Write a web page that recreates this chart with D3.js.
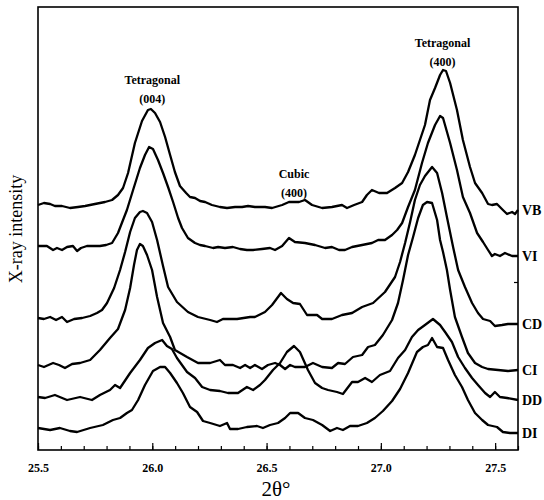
<!DOCTYPE html>
<html>
<head>
<meta charset="utf-8">
<script src="https://cdn.jsdelivr.net/npm/d3@7"></script>
<style>
  body { margin: 0; background: #fff; }
  svg { display: block; font-family: "Liberation Serif", "Times New Roman", serif; }
</style>
</head>
<body>
<svg width="544" height="500"></svg>
<script>
// traces: [2theta, intensity (arb. units, offsets included)]
const vb = [[25.5,245],[25.526,247],[25.553,246],[25.574,244],[25.605,244],[25.64,242],[25.675,243],[25.706,244],[25.749,246],[25.793,248],[25.824,250],[25.85,255],[25.872,262],[25.894,277],[25.924,307],[25.955,329],[25.981,340],[25.994,341],[26.012,337],[26.034,328],[26.056,313],[26.078,295],[26.099,278],[26.121,264],[26.148,257],[26.165,253],[26.187,252],[26.209,249],[26.231,248],[26.261,245],[26.296,243],[26.327,242],[26.362,243],[26.393,243],[26.419,244],[26.449,243],[26.493,243],[26.524,242],[26.568,245],[26.598,248],[26.642,248],[26.668,250],[26.699,245],[26.743,242],[26.786,243],[26.83,245],[26.852,242],[26.883,245],[26.918,248],[26.939,255],[26.961,260],[26.992,257],[27.027,257],[27.062,262],[27.093,267],[27.119,278],[27.149,295],[27.171,310],[27.193,325],[27.215,350],[27.237,362],[27.259,375],[27.272,380],[27.285,379],[27.303,367],[27.333,340],[27.359,310],[27.39,283],[27.412,267],[27.443,257],[27.469,246],[27.486,245],[27.508,246],[27.521,243],[27.534,240],[27.552,236],[27.574,238],[27.587,236],[27.6,240]];

const vi = [[25.5,204],[25.539,204],[25.566,200],[25.583,202],[25.605,200],[25.627,203],[25.653,204],[25.671,199],[25.688,202],[25.714,204],[25.749,204],[25.771,204],[25.798,205],[25.824,207],[25.85,217],[25.872,230],[25.889,240],[25.916,260],[25.946,282],[25.968,295],[25.986,303],[26.003,301],[26.025,290],[26.047,277],[26.069,263],[26.091,248],[26.113,232],[26.13,222],[26.156,212],[26.187,207],[26.209,205],[26.231,204],[26.266,202],[26.288,203],[26.318,202],[26.353,203],[26.384,201],[26.414,200],[26.441,200],[26.48,201],[26.515,202],[26.537,200],[26.568,204],[26.598,212],[26.624,208],[26.668,207],[26.712,205],[26.756,202],[26.786,203],[26.817,200],[26.843,200],[26.874,203],[26.918,205],[26.961,207],[26.988,210],[27.018,210],[27.049,215],[27.071,220],[27.093,227],[27.119,243],[27.149,260],[27.18,287],[27.206,307],[27.237,325],[27.259,334],[27.272,332],[27.303,307],[27.333,280],[27.359,253],[27.39,237],[27.421,217],[27.447,208],[27.469,200],[27.486,194],[27.499,196],[27.521,194],[27.543,197],[27.574,194],[27.6,194]];

const cd = [[25.5,132],[25.526,131],[25.553,133],[25.579,130],[25.605,133],[25.627,128],[25.658,131],[25.693,132],[25.728,134],[25.758,137],[25.78,140],[25.802,147],[25.833,162],[25.859,180],[25.881,198],[25.903,218],[25.924,232],[25.946,238],[25.959,239],[25.977,237],[25.999,228],[26.021,210],[26.047,184],[26.069,163],[26.108,148],[26.156,138],[26.2,133],[26.253,130],[26.283,128],[26.309,131],[26.371,131],[26.428,133],[26.449,133],[26.493,138],[26.524,145],[26.563,157],[26.589,151],[26.616,147],[26.646,146],[26.677,135],[26.721,135],[26.743,131],[26.786,131],[26.83,135],[26.874,137],[26.918,143],[26.966,147],[27.018,158],[27.062,173],[27.084,188],[27.106,207],[27.128,228],[27.149,250],[27.171,265],[27.193,274],[27.224,283],[27.246,277],[27.268,257],[27.289,233],[27.316,203],[27.338,180],[27.368,163],[27.399,147],[27.425,137],[27.447,131],[27.478,129],[27.499,124],[27.53,125],[27.556,126],[27.6,126]];

const ci = [[25.5,85],[25.526,83],[25.566,87],[25.592,85],[25.618,82],[25.649,86],[25.684,87],[25.728,90],[25.771,100],[25.815,112],[25.85,121],[25.881,140],[25.903,162],[25.92,185],[25.933,200],[25.946,206],[25.959,204],[25.977,195],[25.999,180],[26.021,153],[26.047,127],[26.078,113],[26.099,100],[26.152,93],[26.2,87],[26.253,87],[26.296,90],[26.318,85],[26.353,85],[26.384,82],[26.406,85],[26.428,82],[26.449,85],[26.48,81],[26.506,85],[26.537,87],[26.559,85],[26.581,81],[26.603,85],[26.624,83],[26.668,83],[26.703,87],[26.743,83],[26.786,82],[26.813,87],[26.843,86],[26.878,93],[26.918,95],[26.944,103],[26.974,105],[27.009,115],[27.049,130],[27.075,147],[27.097,170],[27.119,195],[27.141,213],[27.163,232],[27.184,245],[27.202,248],[27.224,247],[27.246,230],[27.259,210],[27.272,198],[27.289,180],[27.303,160],[27.324,133],[27.355,113],[27.381,97],[27.412,87],[27.443,83],[27.469,81],[27.513,80],[27.556,79],[27.6,80]];

const dd = [[25.5,53],[25.531,52],[25.574,55],[25.627,50],[25.684,53],[25.736,50],[25.771,55],[25.815,60],[25.837,65],[25.859,62],[25.903,77],[25.946,90],[25.981,102],[26.012,107],[26.043,110],[26.064,104],[26.086,101],[26.108,92],[26.152,78],[26.187,72],[26.218,63],[26.253,60],[26.296,59],[26.331,57],[26.375,57],[26.414,63],[26.441,60],[26.471,65],[26.493,70],[26.528,80],[26.559,87],[26.589,98],[26.62,104],[26.646,98],[26.681,80],[26.712,67],[26.743,62],[26.769,60],[26.808,58],[26.834,56],[26.874,68],[26.9,68],[26.931,72],[26.961,68],[26.996,75],[27.04,79],[27.075,92],[27.106,100],[27.136,113],[27.163,120],[27.193,125],[27.228,131],[27.259,125],[27.281,118],[27.311,108],[27.338,93],[27.368,82],[27.399,72],[27.425,65],[27.456,57],[27.478,53],[27.499,58],[27.521,53],[27.552,52],[27.6,50]];

const di = [[25.5,22],[25.553,20],[25.596,22],[25.64,19],[25.671,18],[25.728,22],[25.784,25],[25.828,30],[25.859,32],[25.889,37],[25.911,40],[25.938,50],[25.968,65],[26.003,79],[26.034,83],[26.056,83],[26.078,77],[26.108,67],[26.134,57],[26.165,43],[26.196,38],[26.222,29],[26.253,27],[26.296,24],[26.327,27],[26.34,21],[26.375,21],[26.414,23],[26.458,24],[26.484,22],[26.515,25],[26.55,27],[26.581,32],[26.603,37],[26.638,37],[26.668,32],[26.703,30],[26.743,25],[26.778,19],[26.808,22],[26.834,20],[26.865,24],[26.9,24],[26.939,27],[26.974,32],[27.009,39],[27.049,49],[27.084,61],[27.119,77],[27.158,98],[27.184,103],[27.206,105],[27.224,112],[27.246,103],[27.272,102],[27.294,90],[27.324,75],[27.355,63],[27.381,50],[27.412,37],[27.443,30],[27.469,25],[27.508,23],[27.534,18],[27.565,17],[27.6,17]];

const seriesNames = ["VB", "VI", "CD", "CI", "DD", "DI"];
const seriesData = [vb, vi, cd, ci, dd, di];

const majorTicks = [25.5, 26.0, 26.5, 27.0, 27.5];
const minorTicks = d3.range(0, 22).map(i => +(25.5 + i * 0.1).toFixed(1));

// peak annotations: [label line 1, label line 2, 2theta, intensity]
const peakNotes = [
	["Tetragonal", "(004)", 26.0, 366],
	["Cubic", "(400)", 26.62, 272],
	["Tetragonal", "(400)", 27.27, 403]
];

const svg = d3.select("svg");

const plotLeft = 38, plotRight = 518, plotTop = 7, plotBottom = 450;

const x = d3.scaleLinear().domain([25.5, 27.6]).range([plotLeft, plotRight]);
const y = d3.scaleLinear().domain([0, 443]).range([plotBottom, plotTop]);

// minor ticks (inward)
svg.append("g")
	.attr("transform", `translate(0,${plotBottom})`)
	.call(d3.axisBottom(x).tickValues(minorTicks).tickSize(-4).tickFormat(""))
	.call(g => g.select(".domain").remove())
	.selectAll("line").attr("stroke-width", 1.2);

// major ticks with labels
const xAxis = svg.append("g")
	.attr("transform", `translate(0,${plotBottom})`)
	.call(d3.axisBottom(x).tickValues(majorTicks).tickSize(-7).tickPadding(13).tickFormat(d3.format(".1f")))
	.call(g => g.select(".domain").remove());
xAxis.selectAll("line").attr("stroke-width", 1.2);
xAxis.selectAll("text")
	.attr("font-family", "Liberation Serif, serif")
	.attr("font-size", 12)
	.attr("font-weight", "bold")
	.attr("fill", "#000");

// lone tick on the right frame
svg.append("g")
	.attr("transform", `translate(${plotRight},0)`)
	.call(d3.axisLeft(y).tickValues([168]).tickSize(4).tickFormat(""))
	.call(g => g.select(".domain").remove())
	.selectAll("line").attr("stroke-width", 1.2);

// frame
svg.append("rect")
	.attr("x", plotLeft).attr("y", plotTop)
	.attr("width", plotRight - plotLeft).attr("height", plotBottom - plotTop)
	.attr("fill", "none").attr("stroke", "#000").attr("stroke-width", 1.6);

const line = d3.line()
	.x(d => x(d[0]))
	.y(d => y(d[1]));

svg.append("g")
	.selectAll("path")
	.data(seriesData)
	.join("path")
	.attr("d", line)
	.attr("fill", "none")
	.attr("stroke", "#000")
	.attr("stroke-width", 2.3)
	.attr("stroke-linejoin", "round");

// series labels at the right end
svg.append("g")
	.selectAll("text")
	.data(seriesData)
	.join("text")
	.attr("x", plotRight + 4)
	.attr("y", d => y(d[d.length - 1][1]))
	.attr("dy", "0.38em")
	.attr("font-size", 14)
	.attr("font-weight", "bold")
	.text((d, i) => seriesNames[i]);

// peak labels
const notes = svg.append("g")
	.attr("font-size", 12)
	.attr("font-weight", "bold")
	.attr("text-anchor", "middle");
notes.selectAll("text.l1")
	.data(peakNotes)
	.join("text")
	.attr("class", "l1")
	.attr("x", d => x(d[2]))
	.attr("y", d => y(d[3]))
	.text(d => d[0]);
notes.selectAll("text.l2")
	.data(peakNotes)
	.join("text")
	.attr("class", "l2")
	.attr("x", d => x(d[2]))
	.attr("y", d => y(d[3]) + 19)
	.text(d => d[1]);

// axis titles
svg.append("text")
	.attr("x", 276)
	.attr("y", 496)
	.attr("text-anchor", "middle")
	.attr("font-size", 21)
	.text("2θ°");

svg.append("text")
	.attr("transform", "translate(22,229) rotate(-90)")
	.attr("text-anchor", "middle")
	.attr("font-size", 18)
	.text("X-ray intensity");
</script>
</body>
</html>
